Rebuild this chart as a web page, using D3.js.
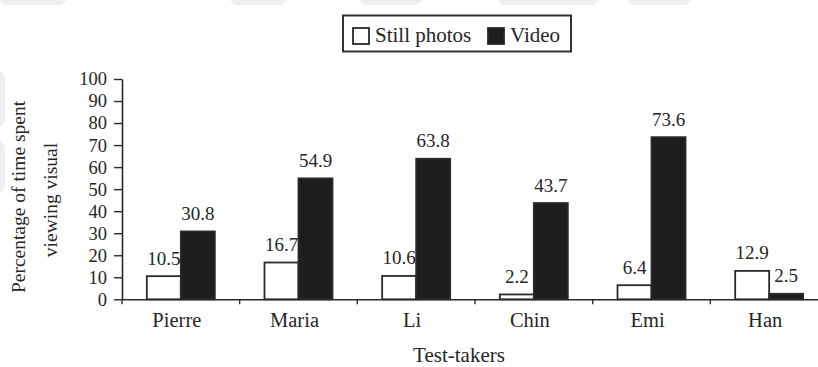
<!DOCTYPE html>
<html>
<head>
<meta charset="utf-8">
<script src="https://cdn.jsdelivr.net/npm/d3@7"></script>
</head>
<body style="margin:0;background:#fff">
<svg id="fig" width="818" height="367" style="display:block"></svg>
<script>
// ---- data ----
const categories = ["Pierre", "Maria", "Li", "Chin", "Emi", "Han"];
const seriesNames = ["Still photos", "Video"];
const stillPhotos = [10.5, 16.7, 10.6, 2.2, 6.4, 12.9];
const video = [30.8, 54.9, 63.8, 43.7, 73.6, 2.5];
const yTicks = [0, 10, 20, 30, 40, 50, 60, 70, 80, 90, 100];
const yTitleLines = ["Percentage of time spent", "viewing visual"];
const xTitle = "Test-takers";

const seriesValues = [stillPhotos, video];
const seriesFill = ["#ffffff", "#1e1e1e"];

const svg = d3.select("#fig");
const ink = "#2a2a2a";
const txt = "#262626";
const fontName = "Liberation Serif";
const SERIF = `"${fontName}", Tinos`;
function serifText(sel, size) {
  sel.style("font-family", SERIF, "important")
     .style("font-size", size + "px")
     .style("fill", txt);
  return sel;
}

// faint watermark shapes from the source scan
const wm = svg.append("g").attr("fill", "#eeeeee");
[[0,63],[230,283],[360,418],[498,595],[628,688]].forEach(([a,b]) => {
  wm.append("polygon").attr("points", `${a},0 ${b+4},0 ${b-2},5 ${a+4},5`);
});
[[70,127],[140,193]].forEach(([a,b]) => {
  wm.append("polygon").attr("points", `0,${a} 5,${a+6} 5,${b-6} 0,${b}`);
});

// ---- scales ----
const x0 = d3.scaleBand().domain(categories).range([122, 828]).paddingInner(0).paddingOuter(0);
const groupW = 68;
const x1 = d3.scaleBand().domain(seriesNames).range([0, groupW]).padding(0);
const y = d3.scaleLinear().domain([0, 100]).range([299.3, 79]);

// ---- y axis ----
const yAxis = svg.append("g")
  .attr("transform", "translate(122,0)")
  .call(d3.axisLeft(y).tickValues(yTicks).tickSize(8).tickPadding(7).tickSizeOuter(0));
yAxis.attr("font-family", SERIF);
yAxis.select(".domain").attr("stroke", ink).attr("stroke-width", 1.6);
yAxis.selectAll(".tick line").attr("stroke", ink).attr("stroke-width", 1.4);
serifText(yAxis.selectAll(".tick text"), 18.5);

// ---- bars ----
const groups = svg.append("g").selectAll("g")
  .data(categories)
  .join("g")
  .attr("transform", d => `translate(${x0(d) + (x0.bandwidth() - groupW) / 2},0)`);

groups.selectAll("rect")
  .data((c, i) => seriesNames.map((s, k) => ({ s, k, v: seriesValues[k][i] })))
  .join("rect")
  .attr("x", d => x1(d.s))
  .attr("width", x1.bandwidth())
  .attr("y", d => y(d.v))
  .attr("height", d => y(0) - y(d.v))
  .attr("fill", d => seriesFill[d.k])
  .attr("stroke", ink)
  .attr("stroke-width", 1.8);

serifText(groups.selectAll("text.val")
  .data((c, i) => seriesNames.map((s, k) => ({ s, k, v: seriesValues[k][i] })))
  .join("text")
  .attr("class", "val")
  .attr("x", d => x1(d.s) + x1.bandwidth() / 2)
  .attr("y", d => y(d.v) - 11.5)
  .attr("text-anchor", "middle")
  .text(d => d.v.toFixed(1)), 19);

// ---- x axis ----
const xAxis = svg.append("g")
  .attr("transform", `translate(0,${y(0)})`)
  .call(d3.axisBottom(x0).tickSize(0).tickSizeOuter(0));
xAxis.attr("font-family", SERIF);
xAxis.select(".domain").attr("stroke", ink).attr("stroke-width", 1.6);
serifText(xAxis.selectAll(".tick text")
  .attr("y", 28).attr("dy", 0).attr("dx", -4), 20.5);
// boundary ticks
svg.append("g").selectAll("line")
  .data(categories)
  .join("line")
  .attr("x1", d => x0(d)).attr("x2", d => x0(d))
  .attr("y1", y(0)).attr("y2", y(0) + 5)
  .attr("stroke", ink).attr("stroke-width", 1.4);

// ---- axis titles ----
const yTitlePos = [[25, 197], [56.5, 200]];
serifText(svg.append("g").selectAll("text")
  .data(yTitleLines)
  .join("text")
  .attr("transform", (d, i) => `translate(${yTitlePos[i][0]},${yTitlePos[i][1]}) rotate(-90)`)
  .attr("text-anchor", "middle")
  .text(d => d), 19.5);

serifText(svg.append("text")
  .attr("x", 459).attr("y", 362)
  .attr("text-anchor", "middle")
  .text(xTitle), 21);

// ---- legend ----
const legend = svg.append("g");
legend.append("rect")
  .attr("x", 343).attr("y", 15.5).attr("width", 228).attr("height", 36)
  .attr("fill", "#fff").attr("stroke", "#333").attr("stroke-width", 2);
const legX = [353, 488];
const items = legend.selectAll("g.item")
  .data(seriesNames)
  .join("g")
  .attr("class", "item")
  .attr("transform", (d, i) => `translate(${legX[i]},0)`);
items.append("rect")
  .attr("x", 0).attr("y", 28).attr("width", 16).attr("height", 16)
  .attr("fill", (d, i) => seriesFill[i])
  .attr("stroke", ink).attr("stroke-width", 1.8);
serifText(items.append("text")
  .attr("x", 22).attr("y", 42)
  .text(d => d), 21);
</script>
</body>
</html>
